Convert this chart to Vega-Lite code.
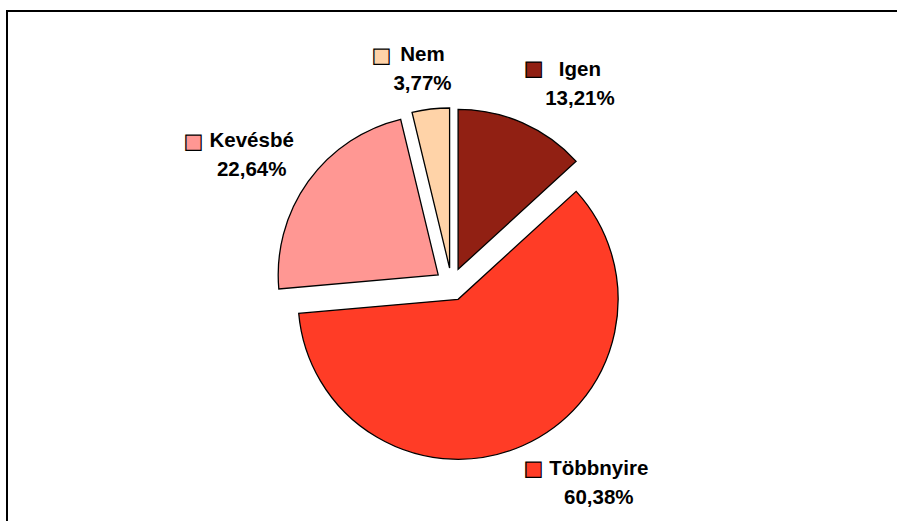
{
  "$schema": "https://vega.github.io/schema/vega-lite/v6.json",
  "width": 900,
  "height": 560,
  "autosize": {"type": "none"},
  "padding": {"left": 7, "top": 11, "right": 0, "bottom": 0},
  "background": "white",
  "view": {"stroke": "black", "strokeWidth": 2},
  "data": {
    "values": [
      {"cat": "Igen", "value": 13.21},
      {"cat": "Többnyire", "value": 60.38},
      {"cat": "Kevésbé", "value": 22.64},
      {"cat": "Nem", "value": 3.77}
    ]
  },
  "transform": [
    {"stack": "value", "groupby": [], "as": ["v0", "v1"]},
    {"calculate": "(datum.v0 + datum.v1) / 2", "as": "mid"},
    {"calculate": "[datum.cat, replace(format(datum.value, '.2f'), '.', ',') + '%']", "as": "lines"}
  ],
  "encoding": {
    "color": {
      "field": "cat",
      "type": "nominal",
      "scale": {
        "domain": ["Igen", "Többnyire", "Kevésbé", "Nem"],
        "range": ["#912013", "#FF3C26", "#FF9793", "#FFD3A8"]
      },
      "legend": null
    }
  },
  "layer": [
    {
      "transform": [{"filter": "datum.cat === 'Igen'"}],
      "mark": {"type": "arc", "outerRadius": 160, "xOffset": 1.1, "yOffset": -21.7, "stroke": "black", "strokeWidth": 1.3},
      "encoding": {
        "theta": {"field": "v0", "type": "quantitative", "stack": null, "scale": {"domain": [0, 100]}},
        "theta2": {"field": "v1"}
      }
    },
    {
      "transform": [{"filter": "datum.cat === 'Többnyire'"}],
      "mark": {"type": "arc", "outerRadius": 160, "xOffset": 1.1, "yOffset": 8.3, "stroke": "black", "strokeWidth": 1.3},
      "encoding": {
        "theta": {"field": "v0", "type": "quantitative", "stack": null, "scale": {"domain": [0, 100]}},
        "theta2": {"field": "v1"}
      }
    },
    {
      "transform": [{"filter": "datum.cat === 'Kevésbé'"}],
      "mark": {"type": "arc", "outerRadius": 160, "xOffset": -18.8, "yOffset": -16.2, "stroke": "black", "strokeWidth": 1.3},
      "encoding": {
        "theta": {"field": "v0", "type": "quantitative", "stack": null, "scale": {"domain": [0, 100]}},
        "theta2": {"field": "v1"}
      }
    },
    {
      "transform": [{"filter": "datum.cat === 'Nem'"}],
      "mark": {"type": "arc", "outerRadius": 160, "xOffset": -7.4, "yOffset": -23.0, "stroke": "black", "strokeWidth": 1.3},
      "encoding": {
        "theta": {"field": "v0", "type": "quantitative", "stack": null, "scale": {"domain": [0, 100]}},
        "theta2": {"field": "v1"}
      }
    },
    {
      "transform": [{"filter": "datum.cat === 'Nem'"}],
      "mark": {"type": "text", "radius": 230, "dx": -7.3, "dy": -1.6, "align": "center", "baseline": "alphabetic", "font": "Liberation Sans", "fontWeight": "bold", "fontSize": 20.5, "lineHeight": 29},
      "encoding": {
        "theta": {"field": "mid", "type": "quantitative", "stack": null, "scale": {"domain": [0, 100]}},
        "text": {"field": "lines"},
        "color": {"value": "black"}
      }
    },
    {
      "transform": [{"filter": "datum.cat === 'Igen'"}],
      "mark": {"type": "text", "radius": 230, "dx": 30.2, "dy": -4.9, "align": "center", "baseline": "alphabetic", "font": "Liberation Sans", "fontWeight": "bold", "fontSize": 20.5, "lineHeight": 29},
      "encoding": {
        "theta": {"field": "mid", "type": "quantitative", "stack": null, "scale": {"domain": [0, 100]}},
        "text": {"field": "lines"},
        "color": {"value": "black"}
      }
    },
    {
      "transform": [{"filter": "datum.cat === 'Kevésbé'"}],
      "mark": {"type": "text", "radius": 230, "dx": -18.5, "dy": -9.8, "align": "center", "baseline": "alphabetic", "font": "Liberation Sans", "fontWeight": "bold", "fontSize": 20.5, "lineHeight": 29},
      "encoding": {
        "theta": {"field": "mid", "type": "quantitative", "stack": null, "scale": {"domain": [0, 100]}},
        "text": {"field": "lines"},
        "color": {"value": "black"}
      }
    },
    {
      "transform": [{"filter": "datum.cat === 'Többnyire'"}],
      "mark": {"type": "text", "radius": 230, "dx": 49.1, "dy": -26.9, "align": "center", "baseline": "alphabetic", "font": "Liberation Sans", "fontWeight": "bold", "fontSize": 20.5, "lineHeight": 29},
      "encoding": {
        "theta": {"field": "mid", "type": "quantitative", "stack": null, "scale": {"domain": [0, 100]}},
        "text": {"field": "lines"},
        "color": {"value": "black"}
      }
    },
    {
      "transform": [{"filter": "datum.cat === 'Nem'"}],
      "mark": {"type": "text", "radius": 230, "dx": -48.3, "dy": -7.1, "align": "center", "baseline": "middle", "font": "DejaVu Sans", "fontSize": 20, "stroke": "black", "strokeWidth": 1.2},
      "encoding": {
        "theta": {"field": "mid", "type": "quantitative", "stack": null, "scale": {"domain": [0, 100]}},
        "text": {"value": "■"}
      }
    },
    {
      "transform": [{"filter": "datum.cat === 'Igen'"}],
      "mark": {"type": "text", "radius": 230, "dx": -16, "dy": -11.4, "align": "center", "baseline": "middle", "font": "DejaVu Sans", "fontSize": 20, "stroke": "black", "strokeWidth": 1.2},
      "encoding": {
        "theta": {"field": "mid", "type": "quantitative", "stack": null, "scale": {"domain": [0, 100]}},
        "text": {"value": "■"}
      }
    },
    {
      "transform": [{"filter": "datum.cat === 'Kevésbé'"}],
      "mark": {"type": "text", "radius": 230, "dx": -76.7, "dy": -14.9, "align": "center", "baseline": "middle", "font": "DejaVu Sans", "fontSize": 20, "stroke": "black", "strokeWidth": 1.2},
      "encoding": {
        "theta": {"field": "mid", "type": "quantitative", "stack": null, "scale": {"domain": [0, 100]}},
        "text": {"value": "■"}
      }
    },
    {
      "transform": [{"filter": "datum.cat === 'Többnyire'"}],
      "mark": {"type": "text", "radius": 230, "dx": -16.1, "dy": -32.9, "align": "center", "baseline": "middle", "font": "DejaVu Sans", "fontSize": 20, "stroke": "black", "strokeWidth": 1.2},
      "encoding": {
        "theta": {"field": "mid", "type": "quantitative", "stack": null, "scale": {"domain": [0, 100]}},
        "text": {"value": "■"}
      }
    }
  ]
}
